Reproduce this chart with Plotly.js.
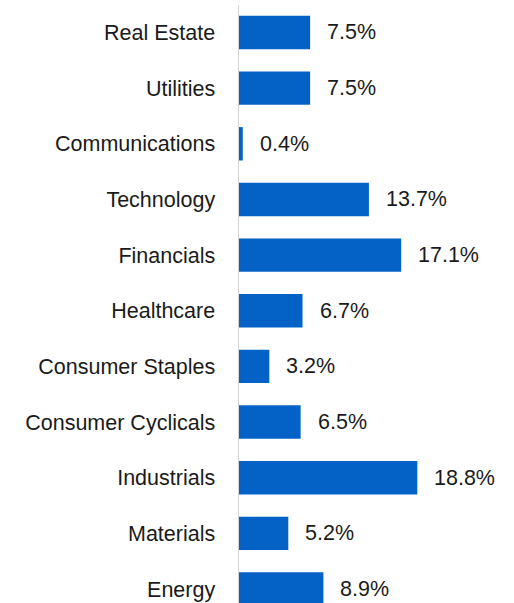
<!DOCTYPE html>
<html>
<head>
<meta charset="utf-8">
<script src="https://cdn.plot.ly/plotly-3.0.1.min.js"></script>
<style>html,body{margin:0;padding:0;background:#fff;}#chart{width:514px;height:603px;}</style>
</head>
<body>
<div id="chart"></div>
<script>
// Categories listed bottom-to-top (Energy at bottom)
const categories = ["Energy", "Materials", "Industrials", "Consumer Cyclicals", "Consumer Staples", "Healthcare", "Financials", "Technology", "Communications", "Utilities", "Real Estate"];
const values = [8.9, 5.2, 18.8, 6.5, 3.2, 6.7, 17.1, 13.7, 0.4, 7.5, 7.5];
const valueLabels = values.map(v => v.toFixed(1) + "%");

const FONT = "Liberation Sans, Arial, sans-serif";
const trace = {
  type: "bar",
  orientation: "h",
  x: values,
  y: categories,
  marker: {color: "#0462C6"},
  width: 0.6,
  hoverinfo: "skip"
};

const annotations = values.map((v, i) => ({
  x: v, y: categories[i], xref: "x", yref: "y",
  text: valueLabels[i], showarrow: false,
  xanchor: "left", yanchor: "middle", xshift: 15,
  font: {family: FONT, size: 21.5, color: "#1a1a1a"}
}));

const layout = {
  width: 514, height: 603,
  margin: {l: 239, r: 0, t: 5, b: 0},
  paper_bgcolor: "#ffffff", plot_bgcolor: "#ffffff",
  showlegend: false,
  xaxis: {range: [0, 29.0], showgrid: false, zeroline: false, showticklabels: false, showline: false, fixedrange: true},
  yaxis: {
    type: "category",
    range: [-0.2516, 10.494],
    showgrid: false, zeroline: false,
    showline: true, linecolor: "#d4d4d4", linewidth: 1.5,
    ticks: "", ticklabelstandoff: 18,
    tickfont: {family: FONT, size: 21.5, color: "#1a1a1a"},
    fixedrange: true
  },
  annotations: annotations
};

Plotly.newPlot("chart", [trace], layout, {displayModeBar: false, staticPlot: true});
</script>
</body>
</html>
